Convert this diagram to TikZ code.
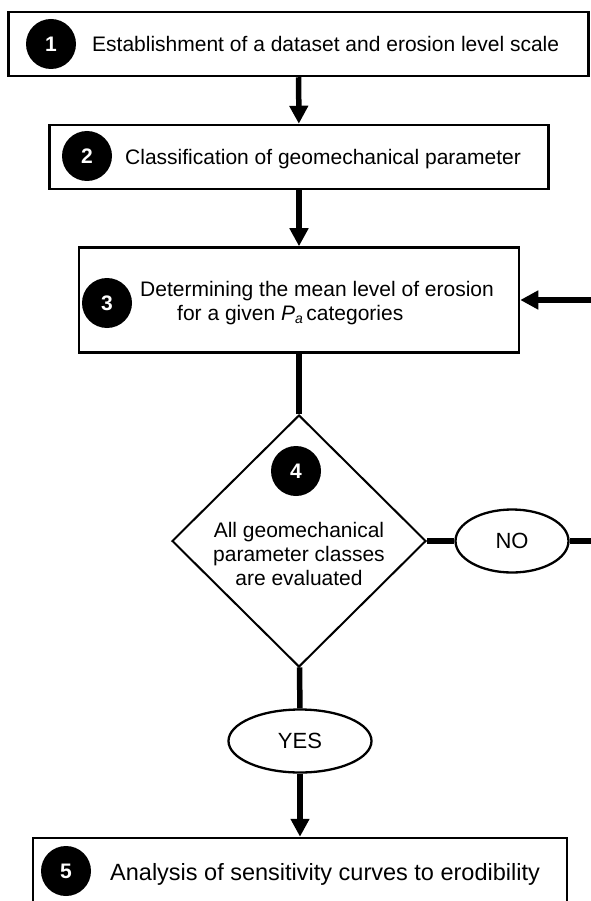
\documentclass[tikz,border=0pt]{standalone}
\usepackage{fontspec}
\setmainfont{Liberation Sans}
\usetikzlibrary{shapes.geometric,arrows.meta}

\tikzset{
  stepbox/.style={draw, line width=2.5pt, inner sep=0pt},
  num/.style={circle, fill=black, text=white, font=\fontsize{21}{21}\selectfont\bfseries, minimum size=50pt, inner sep=0pt},
  lbl/.style={font=\fontsize{21}{24}\selectfont, inner sep=0pt},
  answer/.style={ellipse, draw, line width=2.3pt, minimum height=63pt, inner sep=0pt, font=\fontsize{22}{22}\selectfont},
  flow/.style={line width=5.5pt, -{Triangle[length=18pt,width=18pt]}},
  link/.style={line width=5.5pt},
}

\begin{document}
\begin{tikzpicture}[x=1pt, y=-1pt]
\useasboundingbox (0,0) rectangle (590,901);

% steps
\node[stepbox, minimum width=580pt, minimum height=64pt] (box1) at (298.5,44) {};
\node[num] (n1) at (51,44) {1};
\node[lbl, anchor=base west] (t1) at (92,51.5) {Establishment of a dataset and erosion level scale};

\node[stepbox, minimum width=499pt, minimum height=64pt] (box2) at (299,157) {};
\node[num] (n2) at (87,156) {2};
\node[lbl, anchor=base west] (t2) at (125,164.5) {Classification of geomechanical parameter};

\node[stepbox, minimum width=440pt, minimum height=105pt] (box3) at (299,300) {};
\node[num] (n3) at (107,303) {3};
\node[lbl, align=left, anchor=west] (t3) at (140,303) {Determining the mean level of erosion\\
  \hspace*{37pt}for a given \textit{P}\raisebox{-0.3ex}{\fontsize{14}{14}\selectfont\textit{a}}\,categories};

% decision
\node[diamond, draw, line width=2pt, minimum width=254pt, minimum height=252pt, inner sep=0pt] (dec) at (299,541) {};
\node[num] (n4) at (296,471) {4};
\node[lbl, align=center] (t4) at (299,553.5) {All geomechanical\\parameter classes\\are evaluated};

\node[answer, minimum width=113pt] (no) at (512,541) {NO};
\node[answer, minimum width=143pt] (yes) at (300,741) {YES};

\node[stepbox, minimum width=534pt, minimum height=68pt] (box5) at (300,872) {};
\node[num] (n5) at (66,871) {5};
\node[lbl, font=\fontsize{23.5}{26}\selectfont, anchor=base west] (t5) at (110,880) {Analysis of sensitivity curves to erodibility};

% connectors (the loop runs back just outside the right edge)
\coordinate (loop) at (597,420);
\draw[flow] (box1) -- (box2);
\draw[flow] (box2) -- (box3);
\draw[link] (box3) -- (dec);
\draw[link] (dec) -- (no);
\draw[flow] (no.east) -| (loop) |- (box3.east);
\draw[link] (dec) -- (yes);
\draw[flow] (yes) -- (box5);
\end{tikzpicture}
\end{document}
